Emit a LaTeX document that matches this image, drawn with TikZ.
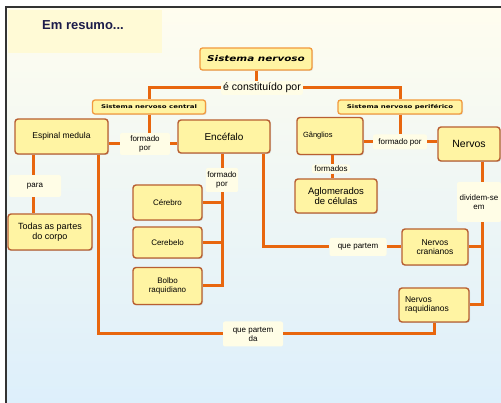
\documentclass[tikz,border=0pt]{standalone}
\usepackage{fontspec}
\setmainfont{Liberation Sans}
\newfontfamily\dejavu{DejaVu Sans}
\usepackage{graphicx}
\usetikzlibrary{shadows}
\definecolor{lineor}{HTML}{E8660E}
\definecolor{boxfill}{HTML}{FFF4A3}
\definecolor{boxbord}{HTML}{B85F32}
\definecolor{hdrbord}{HTML}{F29A3F}
\definecolor{labfill}{HTML}{FFFDE6}
\definecolor{bgtop}{HTML}{FFFDEF}
\definecolor{bgbot}{HTML}{DDEFFB}
\definecolor{titlefill}{HTML}{FFFAD6}
\definecolor{titletext}{HTML}{1C1C4A}
\begin{document}
\begin{tikzpicture}[x=1pt,y=-1pt,
  box/.style={draw=boxbord, fill=boxfill, line width=1.4pt, rounded corners=3pt, align=center, inner sep=1pt,
    font=\fontsize{8.5}{9.5}\selectfont, drop shadow={shadow xshift=1pt,shadow yshift=-1pt,opacity=0.25}},
  hdr/.style={draw=hdrbord, fill=boxfill, line width=1.3pt, rounded corners=2.5pt, inner sep=1pt,
    drop shadow={shadow xshift=1pt,shadow yshift=-1pt,opacity=0.2}},
  lab/.style={fill=labfill, align=center, inner sep=1.5pt, rounded corners=2pt, font=\fontsize{8}{9}\selectfont},
  conn/.style={draw=lineor, line width=3pt},
]
\useasboundingbox (0,0) rectangle (501,403);
\fill[white] (0,0) rectangle (501,403);
\shade[top color=bgtop, bottom color=bgbot] (6,7) rectangle (501,403);
\draw[line width=2pt, black!80] (6,403) -- (6,7) -- (501,7);
\fill[titlefill] (8,10) rectangle (162,53);
\node[font=\bfseries\fontsize{13}{14}\selectfont, text=titletext] (title) at (83,25) {Em resumo...};

% header boxes
\node[hdr, minimum width=112pt, minimum height=22pt, font=\dejavu\bfseries\itshape\fontsize{8}{9}\selectfont] (sn) at (256,59) {\scalebox{1.3}[1]{Sistema nervoso}};
\node[lab, font=\fontsize{10.5}{11.5}\selectfont, inner sep=2pt] (con) at (262,88) {é constituído por};
\node[hdr, minimum width=113pt, minimum height=14pt, font=\dejavu\bfseries\fontsize{5}{6}\selectfont] (snc) at (149,107) {\scalebox{1.4}[1]{Sistema nervoso central}};
\node[hdr, minimum width=124pt, minimum height=14pt, font=\dejavu\bfseries\fontsize{5}{6}\selectfont] (snp) at (400,107) {\scalebox{1.4}[1]{Sistema nervoso periférico}};

% main boxes
\node[box, minimum width=93pt, minimum height=35pt] (em) at (61.5,136.5) {Espinal medula};
\node[box, minimum width=92pt, minimum height=33pt, font=\fontsize{10}{11}\selectfont] (enc) at (224,136.5) {Encéfalo};
\node[box, minimum width=66pt, minimum height=37pt, font=\fontsize{7.5}{8.5}\selectfont] (gan) at (330,136) {\makebox[54pt][l]{Gânglios}};
\node[box, minimum width=62pt, minimum height=34pt, font=\fontsize{10.5}{11.5}\selectfont] (ner) at (469,144) {Nervos};
\node[box, minimum width=84pt, minimum height=36pt, font=\fontsize{9}{10}\selectfont] (tod) at (50,232) {Todas as partes\\do corpo};
\node[box, minimum width=69pt, minimum height=35pt, font=\fontsize{8}{9}\selectfont] (cer) at (167.5,202.5) {Cérebro};
\node[box, minimum width=69pt, minimum height=31pt, font=\fontsize{8}{9}\selectfont] (cbl) at (167.5,242.5) {Cerebelo};
\node[box, minimum width=69pt, minimum height=37pt, font=\fontsize{8}{9}\selectfont] (bol) at (167.5,286) {Bolbo\\raquidiano};
\node[box, minimum width=82pt, minimum height=34pt, font=\fontsize{9.5}{10.5}\selectfont] (agl) at (336,196) {Aglomerados\\de células};
\node[box, minimum width=66pt, minimum height=36pt] (ncr) at (435,247) {Nervos\\cranianos};
\node[box, minimum width=70pt, minimum height=34pt, text width=58pt, align=left] (nrq) at (434,305) {Nervos\\raquidianos};

% labels
\node[lab, minimum width=50pt, minimum height=22pt] (f1) at (145,144) {formado\\por};
\node[lab, minimum width=26pt, minimum height=24pt] (f2) at (222,180) {formado\\por};
\node[lab, minimum width=54pt, minimum height=15pt] (f3) at (400,142) {formado por};
\node[lab, minimum width=38pt, minimum height=9pt] (fmd) at (331,169) {formados};
\node[lab, minimum width=52pt, minimum height=22pt] (para) at (35,186) {para};
\node[lab, minimum width=44pt, minimum height=40pt] (div) at (479,202) {dividem-se\\em};
\node[lab, minimum width=57pt, minimum height=18pt] (qp1) at (358,247) {que partem};
\node[lab, minimum width=60pt, minimum height=25pt] (qp2) at (253,334) {que partem\\da};

% connectors
\coordinate (pv) at (33,0);
\coordinate (sv) at (98,0);
\coordinate (cv) at (222,0);
\coordinate (ev) at (263,0);
\coordinate (gv) at (332,0);
\coordinate (rv) at (482,0);
\draw[conn] (sn.south) -- (sn.south |- con.north);
\draw[conn] (con.west) -| (snc.north);
\draw[conn] (con.east) -| (snp.north);
\draw[conn] (snc.south) -- (snc.south |- f1.north);
\draw[conn] (f1.west) -- (f1.west -| em.east);
\draw[conn] (f1.east) -- (f1.east -| enc.west);
\draw[conn] (snp.south) -- (snp.south |- f3.north);
\draw[conn] (f3.west) -- (f3.west -| gan.east);
\draw[conn] (f3.east) -- (f3.east -| ner.west);
\draw[conn] (em.south -| pv) -- (para.north -| pv);
\draw[conn] (para.south -| pv) -- (tod.north -| pv);
\draw[conn] (em.south -| sv) |- (qp2.west);
\draw[conn] (qp2.east) -| (nrq.south);
\draw[conn] (enc.south -| cv) -- (f2.north -| cv);
\draw[conn] (f2.south -| cv) |- (bol.east);
\draw[conn] (cer.east) -- (cer.east -| cv);
\draw[conn] (cbl.east) -- (cbl.east -| cv);
\draw[conn] (enc.south -| ev) |- (qp1.west);
\draw[conn] (qp1.east) -- (ncr.west);
\draw[conn] (gan.south -| gv) -- (fmd.north -| gv);
\draw[conn] (fmd.south -| gv) -- (agl.north -| gv);
\draw[conn] (ner.south -| rv) -- (div.north -| rv);
\draw[conn] (div.south -| rv) |- (nrq.east);
\draw[conn] (ncr.east) -- (ncr.east -| rv);
\end{tikzpicture}
\end{document}
